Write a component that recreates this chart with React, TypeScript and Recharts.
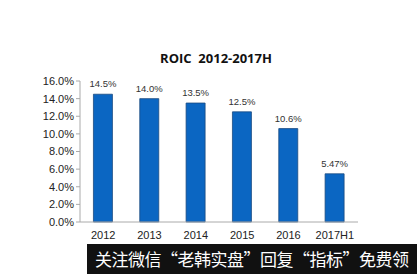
import { Bar, BarChart, LabelList, XAxis, YAxis } from "recharts";

const YEARS = ["2012", "2013", "2014", "2015", "2016", "2017H1"];
const ROIC = [14.5, 14.0, 13.5, 12.5, 10.6, 5.47];
const VALUE_LABELS = ["14.5%", "14.0%", "13.5%", "12.5%", "10.6%", "5.47%"];
const Y_TICKS = [0, 2, 4, 6, 8, 10, 12, 14, 16];

const rows = YEARS.map((year, i) => ({ year, roic: ROIC[i], label: VALUE_LABELS[i] }));

export default function App() {
  return (
    <div
      style={{
        position: "fixed",
        left: 0,
        top: 0,
        width: 417,
        height: 274,
        background: "#fff",
        overflow: "hidden",
        fontFamily: "'Liberation Sans', Arial, sans-serif",
      }}
    >
      <div
        style={{
          position: "absolute",
          left: 0,
          width: 432,
          top: 49,
          textAlign: "center",
          fontFamily: "'Open Sans', sans-serif",
          fontWeight: 700,
          fontSize: 13,
          color: "#111",
          whiteSpace: "pre",
        }}
      >
        ROIC  2012-2017H
      </div>
      <BarChart
        width={417}
        height={274}
        data={rows}
        margin={{ top: 81, right: 59, bottom: 32, left: 20 }}
        barCategoryGap="29%"
      >
        <XAxis
          dataKey="year"
          height={20}
          axisLine={{ stroke: "#aaa" }}
          tickLine={false}
          tick={{ fontSize: 11, fill: "#222" }}
          tickMargin={3}
        />
        <YAxis
          width={60}
          domain={[0, 16]}
          ticks={Y_TICKS}
          interval={0}
          allowDecimals
          axisLine={{ stroke: "#aaa" }}
          tickLine={{ stroke: "#aaa" }}
          tickSize={4}
          tickFormatter={(v: number) => `${v.toFixed(1)}%`}
          tick={{ fontSize: 11, fill: "#222" }}
        />
        <Bar dataKey="roic" fill="#0b66c2" stroke="#1b4a80" strokeWidth={0.8} isAnimationActive={false}>
          <LabelList dataKey="label" position="top" offset={7} style={{ fontSize: 9.5, fill: "#333" }} />
        </Bar>
      </BarChart>
      <div
        style={{
          position: "absolute",
          left: 87,
          top: 244,
          width: 330,
          height: 30,
          background: "#111",
          color: "#fff",
          fontFamily: "'Noto Sans CJK SC', sans-serif",
          fontSize: 17,
          letterSpacing: -0.5,
          lineHeight: "30px",
          paddingLeft: 8,
          whiteSpace: "nowrap",
          overflow: "hidden",
          boxSizing: "border-box",
        }}
      >
        关注微信“老韩实盘”回复“指标”免费领
      </div>
    </div>
  );
}
